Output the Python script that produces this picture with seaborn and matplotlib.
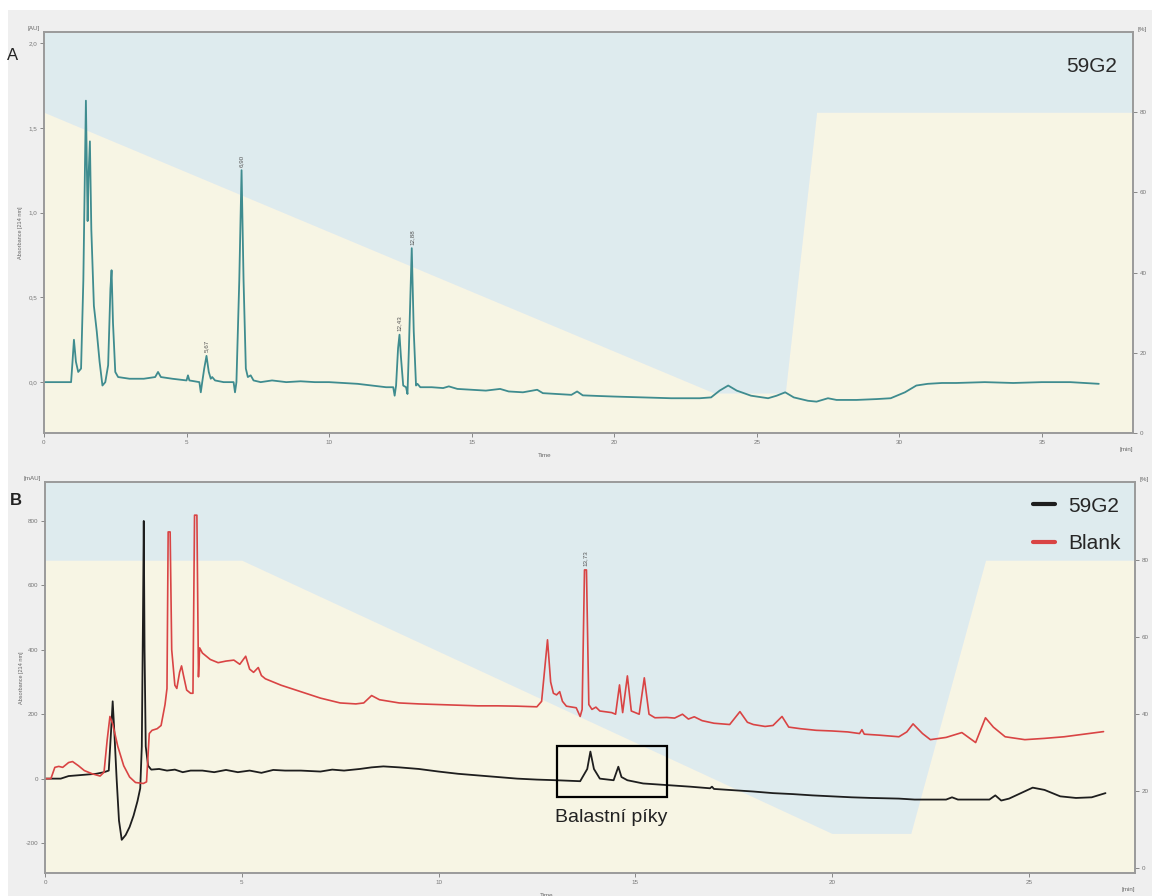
import numpy as np
import pandas as pd
import matplotlib.pyplot as plt
import seaborn as sns
from matplotlib.patches import Rectangle


# ---- panel A : 59G2 chromatogram (AU) ----
time_a = [0.0, 0.95, 1.0, 1.05, 1.12, 1.2, 1.3, 1.38, 1.47, 1.53, 1.56, 1.61, 1.66, 1.75,
          1.85, 1.95, 2.05, 2.15, 2.25, 2.33, 2.37, 2.42, 2.5, 2.6, 3.0, 3.5, 3.9, 4.0, 4.1,
          4.5, 5.0, 5.05, 5.1, 5.45, 5.5, 5.55, 5.62, 5.7, 5.78, 5.85, 5.9, 6.0, 6.3, 6.65,
          6.7, 6.75, 6.85, 6.93, 7.0, 7.08, 7.15, 7.25, 7.35, 7.6, 8.0, 8.5, 9.0, 9.5, 10.0,
          10.5, 11.0, 11.5, 12.0, 12.25, 12.3, 12.35, 12.42, 12.47, 12.52, 12.6, 12.7, 12.75,
          12.8, 12.9, 12.97, 13.05, 13.1, 13.2, 13.6, 14.0, 14.2, 14.5, 15.0, 15.5, 16.0,
          16.3, 16.8, 17.3, 17.5, 18.0, 18.5, 18.7, 18.9, 19.5, 20.0, 21.0, 22.0, 23.0,
          23.4, 23.7, 24.0, 24.3, 24.8, 25.4, 25.7, 26.0, 26.3, 26.8, 27.1, 27.5, 27.8,
          28.5, 29.2, 29.7, 30.2, 30.6, 31.0, 31.5, 32.0, 33.0, 34.0, 35.0, 36.0, 37.0]
abs_a = [0.0, 0.0, 0.12, 0.25, 0.12, 0.06, 0.08, 0.6, 1.66, 0.95, 1.2, 1.42, 0.9, 0.45,
         0.3, 0.12, -0.02, 0.0, 0.1, 0.55, 0.66, 0.35, 0.06, 0.03, 0.02, 0.02, 0.03, 0.06, 0.03,
         0.02, 0.01, 0.04, 0.01, 0.0, -0.06, 0.0, 0.08, 0.155, 0.06, 0.02, 0.03, 0.01, 0.0, 0.0,
         -0.06, 0.0, 0.6, 1.25, 0.6, 0.08, 0.03, 0.04, 0.01, 0.0, 0.01, 0.0, 0.005, 0.0, 0.0,
         -0.005, -0.01, -0.02, -0.03, -0.03, -0.08, -0.02, 0.2, 0.28, 0.15, -0.02, -0.03, -0.07,
         0.2, 0.79, 0.3, -0.02, -0.01, -0.03, -0.03, -0.035, -0.025, -0.04, -0.045, -0.05, -0.04,
         -0.055, -0.06, -0.045, -0.065, -0.07, -0.075, -0.055, -0.078, -0.082, -0.085, -0.09,
         -0.095, -0.095, -0.09, -0.05, -0.02, -0.05, -0.08, -0.095, -0.08, -0.06, -0.09, -0.11,
         -0.115, -0.095, -0.105, -0.105, -0.1, -0.095, -0.06, -0.02, -0.01, -0.005, -0.005,
         0.0, -0.005, 0.0, 0.0, -0.01]
grad_time_a = [0.0, 23.5, 26.0, 27.1, 38.2]
grad_pct_a = [80, 10, 10, 80, 80]
peak_t_a = [5.70, 6.93, 12.47, 12.90]
peak_v_a = [0.155, 1.25, 0.28, 0.79]
peak_lab_a = ["5,67", "6,90", "12,43", "12,88"]
yticks_a = [0.0, 0.5, 1.0, 1.5, 2.0]
ylabels_a = ["0,0", "0,5", "1,0", "1,5", "2,0"]
xticks_a = [0, 5, 10, 15, 20, 25, 30, 35]

# ---- panel B : 59G2 vs Blank (mAU) ----
time_b_sample = [0.0, 0.4, 0.6, 1.0, 1.3, 1.5, 1.62, 1.68, 1.72, 1.76, 1.82, 1.88, 1.95, 2.05,
                 2.15, 2.25, 2.35, 2.42, 2.46, 2.49, 2.51, 2.53, 2.56, 2.62, 2.7, 2.9, 3.1, 3.3,
                 3.5, 3.7, 4.0, 4.3, 4.6, 4.9, 5.2, 5.5, 5.8, 6.1, 6.5, 7.0, 7.3, 7.6, 8.0, 8.3,
                 8.6, 9.0, 9.5, 10.0, 10.5, 11.0, 11.5, 12.0, 12.5, 13.0, 13.6, 13.78, 13.86,
                 13.95, 14.1, 14.45, 14.57, 14.65, 14.8, 15.2, 15.8, 16.4, 16.9, 16.95, 17.0,
                 17.5, 18.0, 18.5, 19.0, 19.5, 20.0, 20.5, 21.0, 21.7, 22.1, 22.9, 23.05, 23.2,
                 24.0, 24.15, 24.3, 24.5, 24.8, 25.1, 25.4, 25.8, 26.2, 26.6, 26.95]
mau_b_sample = [0, 0, 8, 12, 15, 20, 25, 150, 240, 150, 0, -130, -190, -175,
                -150, -115, -70, -30, 100, 500, 800, 400, 100, 40, 28, 30, 25, 28,
                20, 25, 25, 20, 27, 20, 25, 18, 27, 25, 25, 22, 28, 25, 30, 35,
                38, 35, 30, 22, 15, 10, 5, 0, -3, -5, -8, 30, 84,
                30, 0, -5, 37, 5, -5, -15, -20, -25, -30, -25, -32,
                -36, -40, -45, -48, -52, -55, -58, -60, -62, -65, -65, -58, -65,
                -65, -52, -68, -62, -45, -28, -35, -55, -60, -58, -45]
time_b_blank = [0.0, 0.15, 0.25, 0.35, 0.45, 0.6, 0.7, 0.85, 1.0, 1.2, 1.4, 1.5, 1.58, 1.65,
                1.72, 1.85, 2.0, 2.15, 2.3, 2.5, 2.58, 2.65, 2.72, 2.85, 2.95, 3.05, 3.1, 3.13,
                3.18, 3.22, 3.3, 3.35, 3.42, 3.47, 3.52, 3.6, 3.7, 3.76, 3.8, 3.86, 3.9, 3.93,
                4.0, 4.2, 4.4, 4.6, 4.8, 4.95, 5.1, 5.2, 5.3, 5.42, 5.5, 5.6, 6.0, 6.5, 7.0, 7.5,
                7.9, 8.1, 8.3, 8.5, 9.0, 9.5, 10.0, 10.5, 11.0, 11.5, 12.0, 12.5, 12.62, 12.77,
                12.85, 12.92, 13.0, 13.08, 13.15, 13.25, 13.5, 13.6, 13.65, 13.71, 13.76, 13.82,
                13.9, 14.0, 14.1, 14.4, 14.5, 14.6, 14.68, 14.8, 14.9, 15.1, 15.23, 15.35, 15.5,
                15.8, 16.0, 16.2, 16.35, 16.5, 16.7, 17.0, 17.4, 17.66, 17.85, 18.0, 18.3, 18.5,
                18.73, 18.9, 19.2, 19.6, 20.0, 20.4, 20.7, 20.76, 20.82, 21.2, 21.7, 21.9, 22.06,
                22.3, 22.5, 22.9, 23.3, 23.65, 23.9, 24.1, 24.4, 24.9, 25.4, 25.9, 26.4, 26.9]
mau_b_blank = [0, 0, 35, 38, 35, 50, 53, 40, 25, 15, 8, 20, 120, 193,
               170, 100, 40, 5, -12, -15, -10, 140, 150, 155, 165, 230, 280, 766,
               766, 400, 290, 280, 330, 350, 320, 275, 265, 265, 818, 818, 316, 406,
               390, 370, 360, 365, 368, 355, 380, 340, 330, 345, 320, 310, 290, 270, 250, 235,
               232, 235, 258, 245, 235, 232, 230, 228, 226, 226, 225, 223, 240, 431,
               300, 265, 260, 270, 240, 225, 220, 193, 215, 648, 648, 230,
               215, 222, 210, 205, 200, 291, 205, 319, 210, 200, 313, 200, 189,
               190, 188, 200, 185, 192, 180, 172, 168, 208, 175, 168, 162, 165,
               193, 160, 155, 150, 148, 145, 140, 152, 138, 135, 130, 145, 170,
               140, 121, 128, 143, 112, 189, 160, 130, 121, 125, 130, 138, 146]
grad_time_b = [0.0, 5.0, 20.0, 22.0, 23.9, 27.7]
grad_pct_b = [80, 80, 9, 9, 80, 80]
yticks_b = [-200, 0, 200, 400, 600, 800]
xticks_b = [0, 5, 10, 15, 20, 25]
pct_ticks = [0, 20, 40, 60, 80]
box_t = [13.0, 15.8]
box_v = [-56, 102]

BLUE = "#deebee"
YELLOW = "#f7f5e4"
TEAL = "#3f8c8f"
RED = "#d94444"
BLACK = "#1e1e1e"
SPINE = "#9a9a9a"

sns.set_theme(style="white")
plt.rcParams["font.family"] = ["Liberation Sans", "DejaVu Sans"]
plt.rcParams["axes.unicode_minus"] = False
NARROW = ["Liberation Sans Narrow", "Liberation Sans", "DejaVu Sans"]

fig = plt.figure(figsize=(11.52, 8.96), dpi=100)
fig.patch.set_facecolor("white")
fig.patches.append(Rectangle((8 / 1152, 0), 1, 1 - 10 / 896, transform=fig.transFigure,
                             facecolor="#efefef", edgecolor="none", zorder=-10))


def make_panel(rect, xmax, ylim, pct_lim, g_t, g_p, unit):
    ax = fig.add_axes(rect)
    ax2 = ax.twinx()
    ax2.fill_between(g_t, pct_lim[0], g_p, color=YELLOW, lw=0)
    ax2.fill_between(g_t, g_p, pct_lim[1], color=BLUE, lw=0)
    ax2.set_ylim(*pct_lim)
    ax2.set_yticks(pct_ticks)
    ax.set_zorder(ax2.get_zorder() + 1)
    ax.patch.set_visible(False)
    ax.set_xlim(0, xmax)
    ax.set_ylim(*ylim)
    for a in (ax, ax2):
        for s in a.spines.values():
            s.set_color(SPINE)
            s.set_linewidth(1.2)
        a.tick_params(length=3, width=0.6, colors="#777", labelsize=4.5, pad=2)
        a.grid(False)
    ax.tick_params(axis="x", bottom=True)
    ax.tick_params(axis="y", left=True)
    ax2.tick_params(axis="y", right=True)
    ax.set_xlabel("")
    ax.set_ylabel("")
    ax.text(-0.004, 1.003, unit, transform=ax.transAxes, ha="right", va="bottom",
            fontsize=4.5, color="#666")
    ax.text(1.004, 1.0, "[%]", transform=ax.transAxes, ha="left", va="bottom",
            fontsize=4.5, color="#666")
    ax.text(1.0, -0.035, "[min]", transform=ax.transAxes, ha="right", va="top",
            fontsize=4.5, color="#666")
    ax.text(-0.022, 0.5, "Absorbance [214 nm]", transform=ax.transAxes, rotation=90,
            ha="center", va="center", fontsize=4, color="#666")
    ax.text(0.46, -0.05, "Time", transform=ax.transAxes, ha="center", va="top",
            fontsize=4.5, color="#666")
    return ax


# panel A
ax_a = make_panel([44 / 1152, 1 - 433 / 896, 1089 / 1152, 401 / 896], 38.2, (-0.30, 2.065),
                  (0, 100), grad_time_a, grad_pct_a, "[AU]")
sns.lineplot(x=time_a, y=abs_a, ax=ax_a, color=TEAL, lw=1.3, estimator=None, sort=False)
ax_a.set_yticks(yticks_a)
ax_a.set_yticklabels(ylabels_a)
ax_a.set_xticks(xticks_a)
for t, v, lab in zip(peak_t_a, peak_v_a, peak_lab_a):
    ax_a.text(t, v + 0.02, lab, rotation=90, ha="center", va="bottom", fontsize=4.5, color="#555")
ax_a.text(0.985, 0.915, "59G2", transform=ax_a.transAxes, ha="right", va="center",
          fontsize=15, color="#2a2a2a", family=NARROW)
fig.text(13 / 1152, 1 - 55 / 896, "A", fontsize=12, ha="center", va="center", color="#222")

# panel B
ax_b = make_panel([45 / 1152, 1 - 873 / 896, 1090 / 1152, 391 / 896], 27.7, (-293, 921),
                  (-1.3, 100.3), grad_time_b, grad_pct_b, "[mAU]")
sns.lineplot(x=time_b_sample, y=mau_b_sample, ax=ax_b, color=BLACK, lw=1.3,
             estimator=None, sort=False, label="59G2")
sns.lineplot(x=time_b_blank, y=mau_b_blank, ax=ax_b, color=RED, lw=1.2,
             estimator=None, sort=False, label="Blank")
ax_b.set_yticks(yticks_b)
ax_b.set_xticks(xticks_b)
ax_b.text(13.73, 660, "13,73", rotation=90, ha="center", va="bottom", fontsize=4.5, color="#555")
ax_b.add_patch(Rectangle((box_t[0], box_v[0]), box_t[1] - box_t[0], box_v[1] - box_v[0],
                         fill=False, edgecolor="black", lw=1.6, zorder=5))
ax_b.text(sum(box_t) / 2, -121, "Balastní píky", ha="center", va="center", fontsize=14,
          color="#222", family=NARROW)
leg = ax_b.legend(loc="upper right", frameon=False, handlelength=1.1,
                  handletextpad=0.6, labelspacing=0.9, borderaxespad=0.3,
                  prop={"family": NARROW, "size": 15})
for line in leg.get_lines():
    line.set_linewidth(3)
fig.text(16 / 1152, 1 - 500 / 896, "B", fontsize=12, ha="center", va="center",
         color="#222", fontweight="bold")

fig.savefig("out.png", dpi=100)
